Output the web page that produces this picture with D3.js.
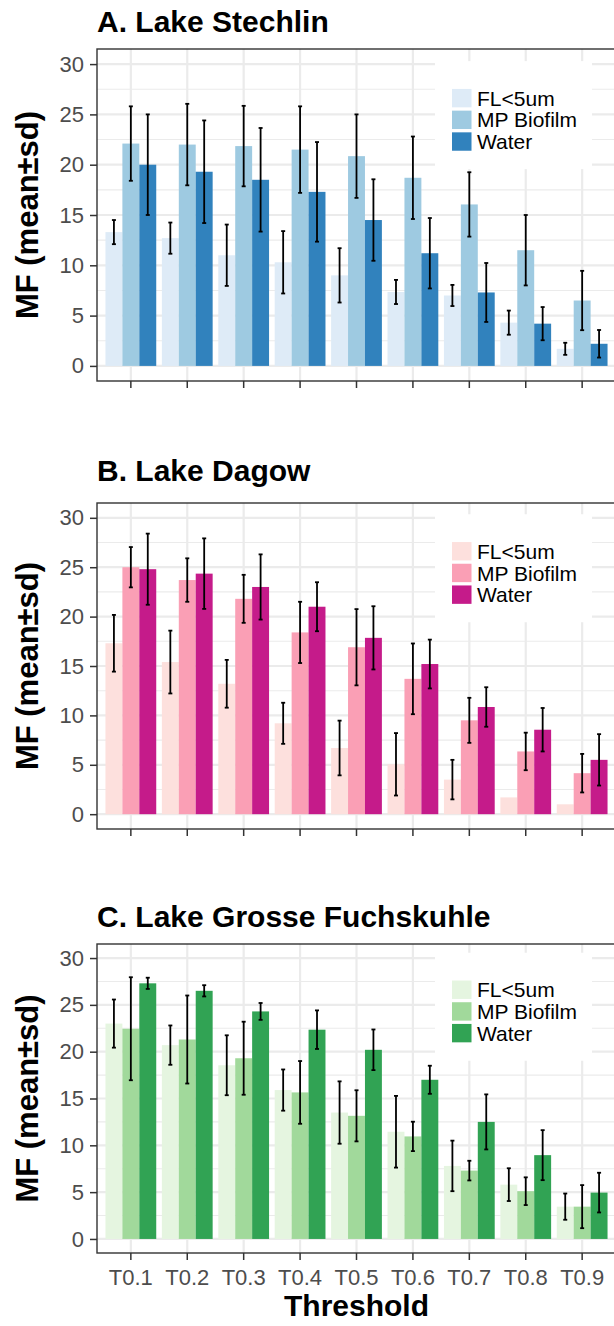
<!DOCTYPE html>
<html>
<head>
<meta charset="utf-8">
<script src="https://cdn.jsdelivr.net/npm/d3@7"></script>
<style>
  body { margin: 0; background: #fff; }
  svg { display: block; font-family: "Liberation Sans", Arial, Helvetica, sans-serif; }
</style>
</head>
<body>
<div id="chart"></div>
<script>
// Categories and ticks
const thresholds = ["T0.1", "T0.2", "T0.3", "T0.4", "T0.5", "T0.6", "T0.7", "T0.8", "T0.9"];
const groups = ["FL<5um", "MP Biofilm", "Water"];
const yTicks = [0, 5, 10, 15, 20, 25, 30];

// A. Lake Stechlin
const stechlinFL      = [13.3, 12.7, 11.0, 10.3, 9.0, 7.35, 7.0, 4.3, 1.7];
const stechlinFLsd    = [1.2, 1.55, 3.05, 3.1, 2.7, 1.2, 1.05, 1.2, 0.6];
const stechlinMP      = [22.1, 22.0, 21.85, 21.5, 20.85, 18.7, 16.05, 11.5, 6.5];
const stechlinMPsd    = [3.7, 4.05, 4.0, 4.3, 4.15, 4.1, 3.2, 3.5, 2.95];
const stechlinWater   = [20.0, 19.3, 18.5, 17.3, 14.5, 11.2, 7.3, 4.2, 2.2];
const stechlinWatersd = [5.0, 5.1, 5.15, 4.95, 4.05, 3.5, 2.93, 1.65, 1.37];

// B. Lake Dagow
const dagowFL      = [17.3, 15.4, 13.2, 9.2, 6.7, 5.05, 3.5, 1.7, 1.0];
const dagowFLsd    = [2.87, 3.18, 2.42, 2.08, 2.77, 3.16, 2.0, null, null];
const dagowMP      = [25.0, 23.7, 21.8, 18.4, 16.9, 13.7, 9.5, 6.35, 4.15];
const dagowMPsd    = [2.04, 2.2, 2.43, 3.1, 3.86, 3.58, 2.28, 1.9, 1.95];
const dagowWater   = [24.8, 24.35, 23.0, 21.0, 17.85, 15.2, 10.85, 8.55, 5.5];
const dagowWatersd = [3.6, 3.57, 3.3, 2.48, 3.2, 2.47, 2.0, 2.2, 2.6];

// C. Lake Grosse Fuchskuhle
const fuchskuhleFL      = [23.0, 20.7, 18.55, 15.9, 13.5, 11.45, 7.8, 5.8, 3.45];
const fuchskuhleFLsd    = [2.57, 2.1, 3.2, 2.2, 3.33, 3.83, 2.7, 1.75, 1.4];
const fuchskuhleMP      = [22.45, 21.3, 19.3, 15.65, 13.15, 10.95, 7.3, 5.1, 3.45];
const fuchskuhleMPsd    = [5.5, 4.7, 3.9, 3.35, 2.73, 1.57, 1.05, 1.48, 2.3];
const fuchskuhleWater   = [27.3, 26.5, 24.3, 22.35, 20.2, 17.0, 12.5, 8.95, 4.95];
const fuchskuhleWatersd = [0.6, 0.6, 0.9, 2.06, 2.17, 1.5, 2.94, 2.67, 2.12];

const blues  = ["#deebf7", "#9ecae1", "#3182bd"];
const pinks  = ["#fde0dd", "#fa9fb5", "#c51b8a"];
const greens = ["#e5f5e0", "#a1d99b", "#31a354"];

const panels = [
    { title: "A. Lake Stechlin", titleY: 32, top: 49, bottom: 381, colors: blues,
      mean: [stechlinFL, stechlinMP, stechlinWater], sd: [stechlinFLsd, stechlinMPsd, stechlinWatersd] },
    { title: "B. Lake Dagow", titleY: 481, top: 503, bottom: 829, colors: pinks,
      mean: [dagowFL, dagowMP, dagowWater], sd: [dagowFLsd, dagowMPsd, dagowWatersd] },
    { title: "C. Lake Grosse Fuchskuhle", titleY: 927, top: 944, bottom: 1253, colors: greens,
      mean: [fuchskuhleFL, fuchskuhleMP, fuchskuhleWater], sd: [fuchskuhleFLsd, fuchskuhleMPsd, fuchskuhleWatersd],
      xLabels: true }
];

const width = 614, height = 1326;
const left = 97, right = 616;

const svg = d3.select("#chart")
    .append("svg")
    .attr("width", width)
    .attr("height", height);

svg.append("rect").attr("width", width).attr("height", height).attr("fill", "#fff");

const x0 = d3.scaleBand()
    .domain(thresholds)
    .range([left, right])
    .paddingInner(0.1)
    .paddingOuter(0.15);

const x1 = d3.scaleBand()
    .domain(groups)
    .range([0, x0.bandwidth()]);

panels.forEach(p => {
    const g = svg.append("g");

    const y = d3.scaleLinear()
        .domain([-1.5, 31.5])
        .range([p.bottom, p.top]);

    // grid
    g.selectAll(".minor")
        .data(d3.range(2.5, 30, 5))
        .enter().append("line")
        .attr("x1", left).attr("x2", right)
        .attr("y1", d => y(d)).attr("y2", d => y(d))
        .attr("stroke", "#ebebeb").attr("stroke-width", 1.1);

    g.selectAll(".major")
        .data(yTicks)
        .enter().append("line")
        .attr("x1", left).attr("x2", right)
        .attr("y1", d => y(d)).attr("y2", d => y(d))
        .attr("stroke", "#ebebeb").attr("stroke-width", 2.2);

    g.selectAll(".vgrid")
        .data(thresholds)
        .enter().append("line")
        .attr("x1", d => x0(d) + x0.bandwidth() / 2)
        .attr("x2", d => x0(d) + x0.bandwidth() / 2)
        .attr("y1", p.top).attr("y2", p.bottom)
        .attr("stroke", "#ebebeb").attr("stroke-width", 2.2);

    // bars
    const rows = [];
    groups.forEach((s, i) => {
        thresholds.forEach((t, j) => {
            rows.push({ t: t, s: s, i: i, mean: p.mean[i][j], sd: p.sd[i][j] });
        });
    });

    g.selectAll(".bar")
        .data(rows)
        .enter().append("rect")
        .attr("x", d => x0(d.t) + x1(d.s))
        .attr("y", d => y(d.mean))
        .attr("width", x1.bandwidth())
        .attr("height", d => y(0) - y(d.mean))
        .attr("fill", d => p.colors[d.i]);

    // error bars
    const errs = rows.filter(d => d.sd != null);
    const cx = d => x0(d.t) + x1(d.s) + x1.bandwidth() / 2;

    g.selectAll(".err")
        .data(errs)
        .enter().append("line")
        .attr("x1", cx).attr("x2", cx)
        .attr("y1", d => y(d.mean - d.sd))
        .attr("y2", d => y(d.mean + d.sd))
        .attr("stroke", "#000").attr("stroke-width", 1.8);

    ["lo", "hi"].forEach(k => {
        g.selectAll(".cap-" + k)
            .data(errs)
            .enter().append("line")
            .attr("x1", d => cx(d) - 2).attr("x2", d => cx(d) + 2)
            .attr("y1", d => y(k === "lo" ? d.mean - d.sd : d.mean + d.sd))
            .attr("y2", d => y(k === "lo" ? d.mean - d.sd : d.mean + d.sd))
            .attr("stroke", "#000").attr("stroke-width", 1.8);
    });

    // legend
    const ly = p.top + 0.148 * (p.bottom - p.top);
    const lg = g.append("g");
    lg.append("rect")
        .attr("x", 435).attr("y", ly - 37)
        .attr("width", 157).attr("height", 108)
        .attr("fill", "#fff");
    groups.forEach((s, i) => {
        lg.append("rect")
            .attr("x", 452).attr("y", ly + i * 21.7 - 9.2)
            .attr("width", 19.5).attr("height", 18.4)
            .attr("fill", p.colors[i]);
        lg.append("text")
            .attr("x", 477).attr("y", ly + i * 21.7)
            .attr("dy", "0.36em")
            .attr("font-size", 21)
            .attr("fill", "#000")
            .text(s);
    });

    // border
    g.append("rect")
        .attr("x", left).attr("y", p.top)
        .attr("width", right - left).attr("height", p.bottom - p.top)
        .attr("fill", "none").attr("stroke", "#333").attr("stroke-width", 1.4);

    // axes
    const ya = g.append("g")
        .attr("transform", "translate(" + left + ",0)")
        .call(d3.axisLeft(y).tickValues(yTicks).tickSize(7).tickPadding(6));
    ya.select(".domain").remove();
    ya.selectAll("line").attr("stroke", "#333").attr("stroke-width", 1.5);
    ya.selectAll("text").attr("font-size", 22).attr("fill", "#4d4d4d")
        .attr("font-family", "'Liberation Sans', Arial, sans-serif");

    const xa = g.append("g")
        .attr("transform", "translate(0," + p.bottom + ")")
        .call(d3.axisBottom(x0).tickSize(7).tickPadding(9)
            .tickFormat(p.xLabels ? null : ""));
    xa.select(".domain").remove();
    xa.selectAll("line").attr("stroke", "#333").attr("stroke-width", 1.5);
    xa.selectAll("text").attr("font-size", 22).attr("fill", "#4d4d4d")
        .attr("font-family", "'Liberation Sans', Arial, sans-serif");

    // titles
    g.append("text")
        .attr("x", left).attr("y", p.titleY)
        .attr("font-size", 30).attr("font-weight", "bold")
        .text(p.title);

    g.append("text")
        .attr("transform", "translate(38," + ((p.top + p.bottom) / 2) + ") rotate(-90)")
        .attr("text-anchor", "middle")
        .attr("font-size", 31).attr("font-weight", "bold")
        .text("MF (mean±sd)");
});

svg.append("text")
    .attr("x", (left + right) / 2)
    .attr("y", 1316)
    .attr("text-anchor", "middle")
    .attr("font-size", 30).attr("font-weight", "bold")
    .text("Threshold");
</script>
</body>
</html>
